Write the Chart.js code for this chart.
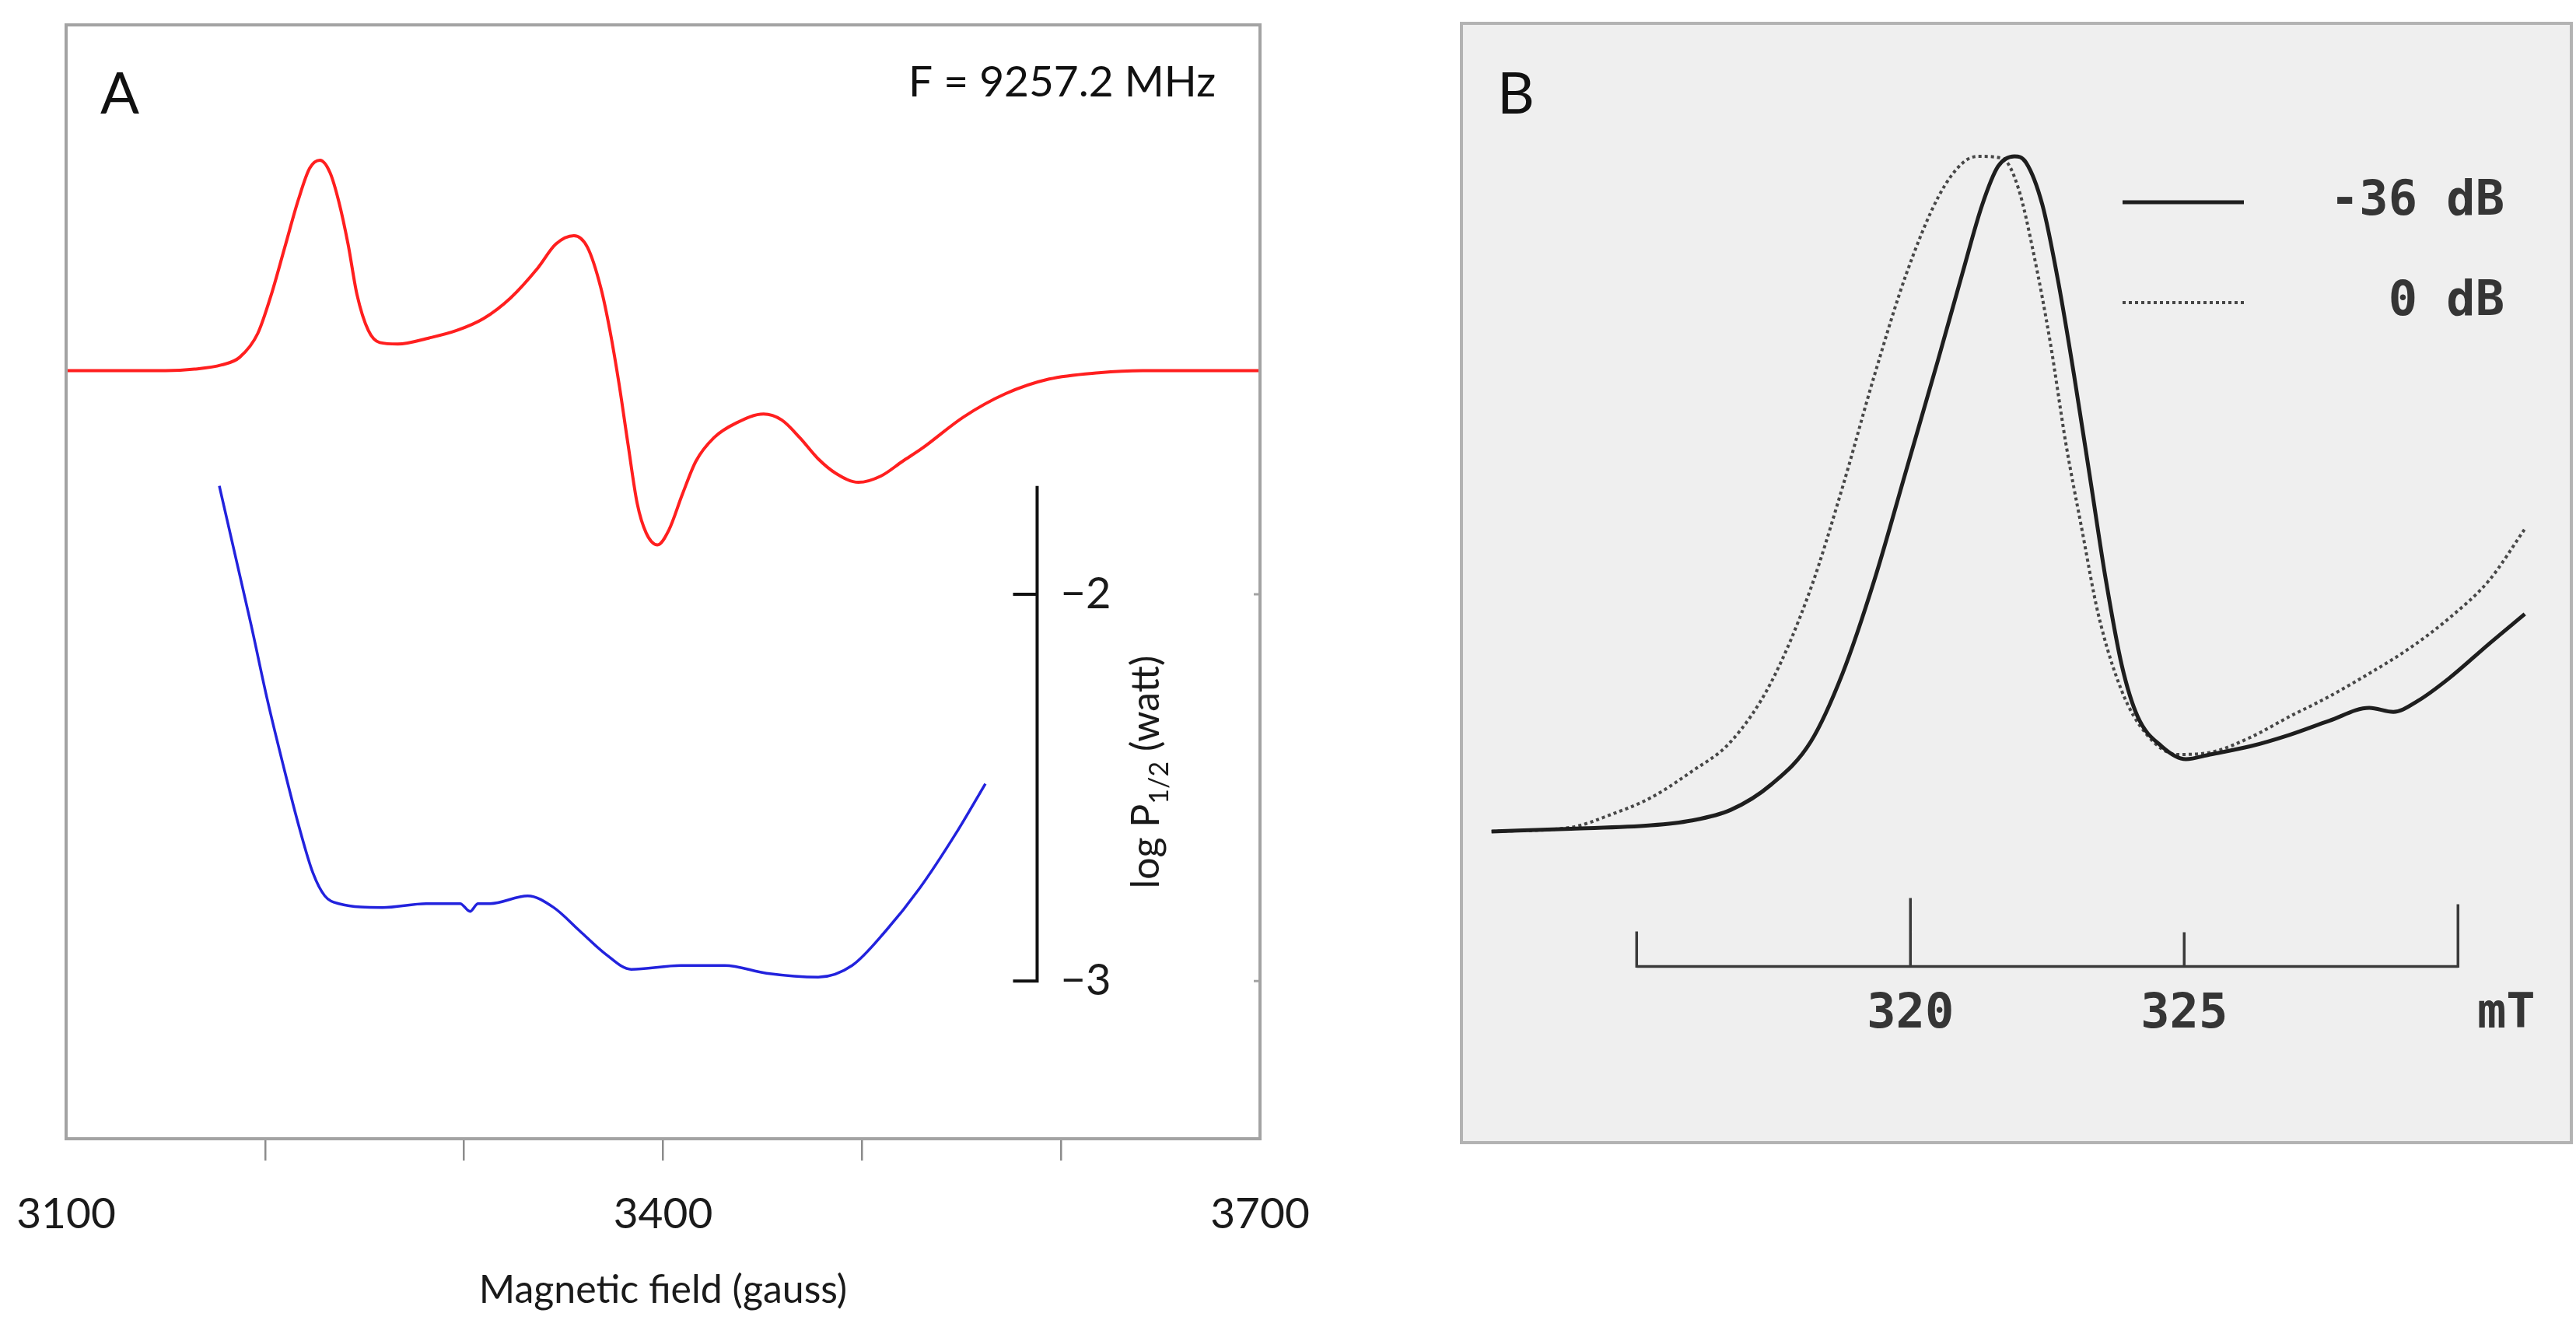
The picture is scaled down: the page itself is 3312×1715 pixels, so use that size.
<!DOCTYPE html>
<html>
<head>
<meta charset="utf-8">
<script src="https://cdn.jsdelivr.net/npm/chart.js@4.4.1/dist/chart.umd.min.js"></script>
<style>
  html, body { margin: 0; padding: 0; background: #fff; }
  #wrap { position: relative; width: 3312px; height: 1715px; overflow: hidden; }
  canvas { position: absolute; top: 0; }
  #chartA { left: 0; }
  #chartB { left: 1700px; }
</style>
</head>
<body>
<div id="wrap">
  <canvas id="chartA" width="1700" height="1715"></canvas>
  <canvas id="chartB" width="1612" height="1715"></canvas>
</div>
<script>
// Panel A: EPR spectrum (red) and half-saturation power (blue) against field in gauss
const fieldEpr = [3100, 3150, 3164.5, 3178.1, 3187.2, 3196.3, 3203.1, 3209.9, 3216.7, 3222.4, 3227.6, 3232.6,
  3237.1, 3241.7, 3246.2, 3251.9, 3257.6, 3266.7, 3282.5, 3296.2, 3309.8, 3323.4, 3337.0, 3346.1, 3355.2, 3362.0,
  3368.8, 3373.3, 3377.9, 3382.4, 3387.0, 3391.5, 3397.2, 3402.9, 3409.7, 3416.5, 3425.6, 3436.9, 3450.5, 3459.6,
  3468.7, 3477.8, 3486.8, 3498.2, 3509.5, 3520.4, 3530, 3551, 3572, 3594, 3619, 3641, 3700];
const epr = [0, 0, 0.007, 0.027, 0.063, 0.176, 0.36, 0.585, 0.81, 0.96, 0.998, 0.94,
  0.80, 0.60, 0.36, 0.19, 0.133, 0.126, 0.155, 0.19, 0.247, 0.345, 0.486, 0.60, 0.64, 0.585,
  0.39, 0.19, -0.064, -0.35, -0.63, -0.77, -0.827, -0.757, -0.587, -0.43, -0.318, -0.248, -0.206, -0.234,
  -0.318, -0.417, -0.487, -0.53, -0.50, -0.43, -0.37, -0.22, -0.11, -0.04, -0.01, 0, 0];

const fieldPower = [3177, 3185, 3193, 3201, 3209, 3217, 3224, 3230, 3237, 3259, 3281, 3298, 3303, 3307, 3313,
  3332, 3345, 3358, 3371, 3384, 3409, 3431, 3452, 3478, 3495, 3512, 3529, 3547, 3562];
const logPower = [-1.72, -1.90, -2.08, -2.27, -2.44, -2.60, -2.72, -2.78, -2.80, -2.81, -2.80, -2.80, -2.82, -2.80, -2.80,
  -2.78, -2.81, -2.87, -2.93, -2.97, -2.96, -2.96, -2.98, -2.99, -2.96, -2.87, -2.76, -2.62, -2.49];

const fieldTicks = [3100, 3200, 3300, 3400, 3500, 3600, 3700];
const fieldLabels = [3100, 3400, 3700];
const powerTicks = [-2, -3];

// Panel B: absorption lines at two microwave powers, field in mT
const fieldLow = [312.35, 313.8, 315.26, 315.99, 316.72, 317.45, 318.18, 318.76, 319.34, 319.93, 320.51, 320.95,
  321.31, 321.6, 321.9, 322.11, 322.41, 322.7, 322.99, 323.28, 323.57, 323.86, 324.15, 324.59, 325.03, 325.47,
  326.2, 326.92, 327.65, 328.38, 328.82, 329.26, 329.84, 330.57, 331.22];
const signalLow = [0, 0.004, 0.009, 0.016, 0.032, 0.069, 0.133, 0.234, 0.372, 0.537, 0.70, 0.827,
  0.928, 0.985, 1.0, 0.991, 0.928, 0.814, 0.675, 0.524, 0.372, 0.246, 0.170, 0.126, 0.107, 0.114,
  0.126, 0.143, 0.164, 0.183, 0.177, 0.193, 0.227, 0.278, 0.322];

const fieldHigh = [312.35, 313.8, 314.53, 315.26, 315.99, 316.72, 317.45, 318.18, 318.76, 319.34, 319.93, 320.51,
  320.95, 321.24, 321.68, 321.97, 322.26, 322.55, 322.84, 323.13, 323.43, 323.86, 324.3, 324.88, 325.47,
  326.2, 326.92, 327.65, 328.38, 329.11, 329.84, 330.57, 331.22];
const signalHigh = [0, 0.006, 0.025, 0.05, 0.088, 0.133, 0.22, 0.36, 0.51, 0.675, 0.827, 0.94,
  0.99, 1.0, 0.997, 0.953, 0.852, 0.726, 0.574, 0.448, 0.322, 0.208, 0.145, 0.114, 0.117,
  0.139, 0.17, 0.20, 0.234, 0.271, 0.316, 0.372, 0.448];

const mtTicks = [315, 320, 325, 330];
const mtLabels = [320, 325];
const legendNames = ['-36 dB', '0 dB'];

const pts = (xs, ys) => xs.map((x, i) => ({ x: x, y: ys[i] }));

// frame, inner power axis and annotations of panel A
const panelA = {
  id: 'panelA',
  afterDatasetsDraw(chart) {
    const { ctx, chartArea: a, scales } = chart;
    const x = scales.x, yb = scales.yb;
    ctx.save();
    ctx.strokeStyle = '#a3a3a3';
    ctx.lineWidth = 4;
    ctx.strokeRect(a.left, a.top, a.right - a.left, a.bottom - a.top);

    // the log P axis stands inside the plot
    const px = x.getPixelForValue(3588);
    ctx.strokeStyle = '#111';
    ctx.lineWidth = 4;
    ctx.beginPath();
    ctx.moveTo(px, yb.getPixelForValue(-1.72));
    ctx.lineTo(px, yb.getPixelForValue(Math.min(...powerTicks)));
    powerTicks.forEach(v => {
      const py = yb.getPixelForValue(v);
      ctx.moveTo(px + 2, py);
      ctx.lineTo(px - 31, py);
    });
    ctx.stroke();

    // small marks on the right frame at the same levels
    ctx.strokeStyle = '#a3a3a3';
    ctx.lineWidth = 3;
    ctx.beginPath();
    powerTicks.forEach(v => {
      const py = yb.getPixelForValue(v);
      ctx.moveTo(a.right, py);
      ctx.lineTo(a.right - 8, py);
    });
    ctx.stroke();

    ctx.fillStyle = '#1a1a1a';
    ctx.font = '56px Lato';
    ctx.textAlign = 'left';
    ctx.textBaseline = 'middle';
    powerTicks.forEach(v => ctx.fillText('\u2212' + Math.abs(v), px + 30, yb.getPixelForValue(v)));

    // rotated title with subscript
    ctx.translate(px + 140, yb.getPixelForValue(-2.46));
    ctx.rotate(-Math.PI / 2);
    const big = '50px Lato', small = '34px Lato';
    ctx.font = big;
    const w1 = ctx.measureText('log P').width, w3 = ctx.measureText(' (watt)').width;
    ctx.font = small;
    const w2 = ctx.measureText('1/2').width;
    const cx = -(w1 + w2 + w3) / 2;
    ctx.textBaseline = 'alphabetic';
    ctx.font = big;
    ctx.fillText('log P', cx, 17);
    ctx.font = small;
    ctx.fillText('1/2', cx + w1, 29);
    ctx.font = big;
    ctx.fillText(' (watt)', cx + w1 + w2, 17);
    ctx.restore();

    ctx.save();
    ctx.fillStyle = '#111';
    ctx.textBaseline = 'alphabetic';
    ctx.font = '74px Lato';
    ctx.textAlign = 'left';
    ctx.fillText('A', a.left + 44, a.top + 114);
    ctx.font = '55px Lato';
    ctx.textAlign = 'right';
    ctx.fillText('F = 9257.2 MHz', a.right - 57, a.top + 92);
    ctx.restore();
  }
};

new Chart(document.getElementById('chartA'), {
  type: 'line',
  data: {
    datasets: [
      {
        label: 'EPR',
        data: pts(fieldEpr, epr),
        yAxisID: 'yr',
        borderColor: '#ff1f1f',
        borderWidth: 4,
        pointRadius: 0,
        cubicInterpolationMode: 'monotone'
      },
      {
        label: 'log P1/2',
        data: pts(fieldPower, logPower),
        yAxisID: 'yb',
        borderColor: '#2222dd',
        borderWidth: 3.5,
        pointRadius: 0,
        cubicInterpolationMode: 'monotone'
      }
    ]
  },
  options: {
    responsive: false,
    animation: false,
    devicePixelRatio: 1,
    layout: { padding: { left: 85, top: 32, right: 80, bottom: 0 } },
    plugins: { legend: { display: false }, tooltip: { enabled: false } },
    scales: {
      x: {
        type: 'linear',
        min: 3100,
        max: 3700,
        afterBuildTicks: s => { s.ticks = fieldTicks.map(v => ({ value: v })); },
        afterFit: s => { s.height = 251; s.paddingLeft = 0; s.paddingRight = 0; },
        border: { display: false },
        grid: {
          drawOnChartArea: false,
          drawTicks: true,
          tickLength: 28,
          lineWidth: 2.5,
          color: c => (c.tick && (c.tick.value === 3100 || c.tick.value === 3700)) ? 'rgba(0,0,0,0)' : '#8c8c8c'
        },
        ticks: {
          autoSkip: false,
          maxRotation: 0,
          padding: 36,
          color: '#1a1a1a',
          font: { family: 'Lato', size: 55 },
          callback: v => fieldLabels.includes(v) ? String(v) : ''
        },
        title: {
          display: true,
          text: 'Magnetic field (gauss)',
          color: '#1a1a1a',
          font: { family: 'Lato', size: 50 },
          padding: { top: 0, bottom: 26 }
        }
      },
      yr: { display: false, min: -3.644, max: 1.64 },
      yb: { display: false, min: -3.408, max: -0.528 }
    }
  },
  plugins: [panelA]
});

// background, frame, mT axis and legend of panel B
const panelB = {
  id: 'panelB',
  beforeDatasetsDraw(chart) {
    const { ctx, chartArea: a } = chart;
    ctx.save();
    ctx.fillStyle = '#efefef';
    ctx.fillRect(a.left, a.top, a.right - a.left, a.bottom - a.top);
    ctx.restore();
  },
  afterDatasetsDraw(chart) {
    const { ctx, chartArea: a, scales } = chart;
    const x = scales.x, y = scales.y;
    ctx.save();
    ctx.strokeStyle = '#b3b3b3';
    ctx.lineWidth = 4;
    ctx.strokeRect(a.left, a.top, a.right - a.left, a.bottom - a.top);

    // field bar under the lines
    const ay = y.getPixelForValue(-0.2);
    const tickLen = { 315: 45, 320: 88, 325: 44, 330: 80 };
    ctx.strokeStyle = '#3a3a3a';
    ctx.lineWidth = 3.5;
    ctx.beginPath();
    ctx.moveTo(x.getPixelForValue(mtTicks[0]), ay);
    ctx.lineTo(x.getPixelForValue(mtTicks[mtTicks.length - 1]), ay);
    mtTicks.forEach(v => {
      const px = x.getPixelForValue(v);
      ctx.moveTo(px, ay + 1.5);
      ctx.lineTo(px, ay - tickLen[v]);
    });
    ctx.stroke();

    ctx.fillStyle = '#353535';
    ctx.font = 'bold 62px "DejaVu Sans Mono"';
    ctx.textAlign = 'center';
    ctx.textBaseline = 'middle';
    mtLabels.forEach(v => ctx.fillText(String(v), x.getPixelForValue(v), ay + 62));
    ctx.fillText('mT', x.getPixelForValue(330) + 62, ay + 62);

    // legend
    const ds = chart.data.datasets;
    [260, 389].forEach((ly, i) => {
      ctx.strokeStyle = ds[i].borderColor;
      ctx.lineWidth = ds[i].borderWidth;
      ctx.setLineDash(ds[i].borderDash || []);
      ctx.beginPath();
      ctx.moveTo(1029, ly);
      ctx.lineTo(1185, ly);
      ctx.stroke();
      ctx.setLineDash([]);
      ctx.fillStyle = '#353535';
      ctx.textAlign = 'right';
      ctx.fillText(ds[i].label, 1520, ly);
    });

    ctx.fillStyle = '#111';
    ctx.font = '74px Lato';
    ctx.textAlign = 'left';
    ctx.textBaseline = 'alphabetic';
    ctx.fillText('B', a.left + 46, a.top + 116);
    ctx.restore();
  }
};

new Chart(document.getElementById('chartB'), {
  type: 'line',
  data: {
    datasets: [
      {
        label: legendNames[0],
        data: pts(fieldLow, signalLow),
        borderColor: '#1e1e1e',
        borderWidth: 5,
        pointRadius: 0,
        cubicInterpolationMode: 'monotone'
      },
      {
        label: legendNames[1],
        data: pts(fieldHigh, signalHigh),
        borderColor: '#474747',
        borderWidth: 4,
        borderDash: [4, 4],
        pointRadius: 0,
        cubicInterpolationMode: 'monotone'
      }
    ]
  },
  options: {
    responsive: false,
    animation: false,
    devicePixelRatio: 1,
    layout: { padding: { left: 179, top: 30, right: 6, bottom: 246 } },
    plugins: { legend: { display: false }, tooltip: { enabled: false } },
    scales: {
      x: { type: 'linear', display: false, min: 311.8, max: 332.07 },
      y: { display: false, min: -0.461, max: 1.197 }
    }
  },
  plugins: [panelB]
});
</script>
</body>
</html>
